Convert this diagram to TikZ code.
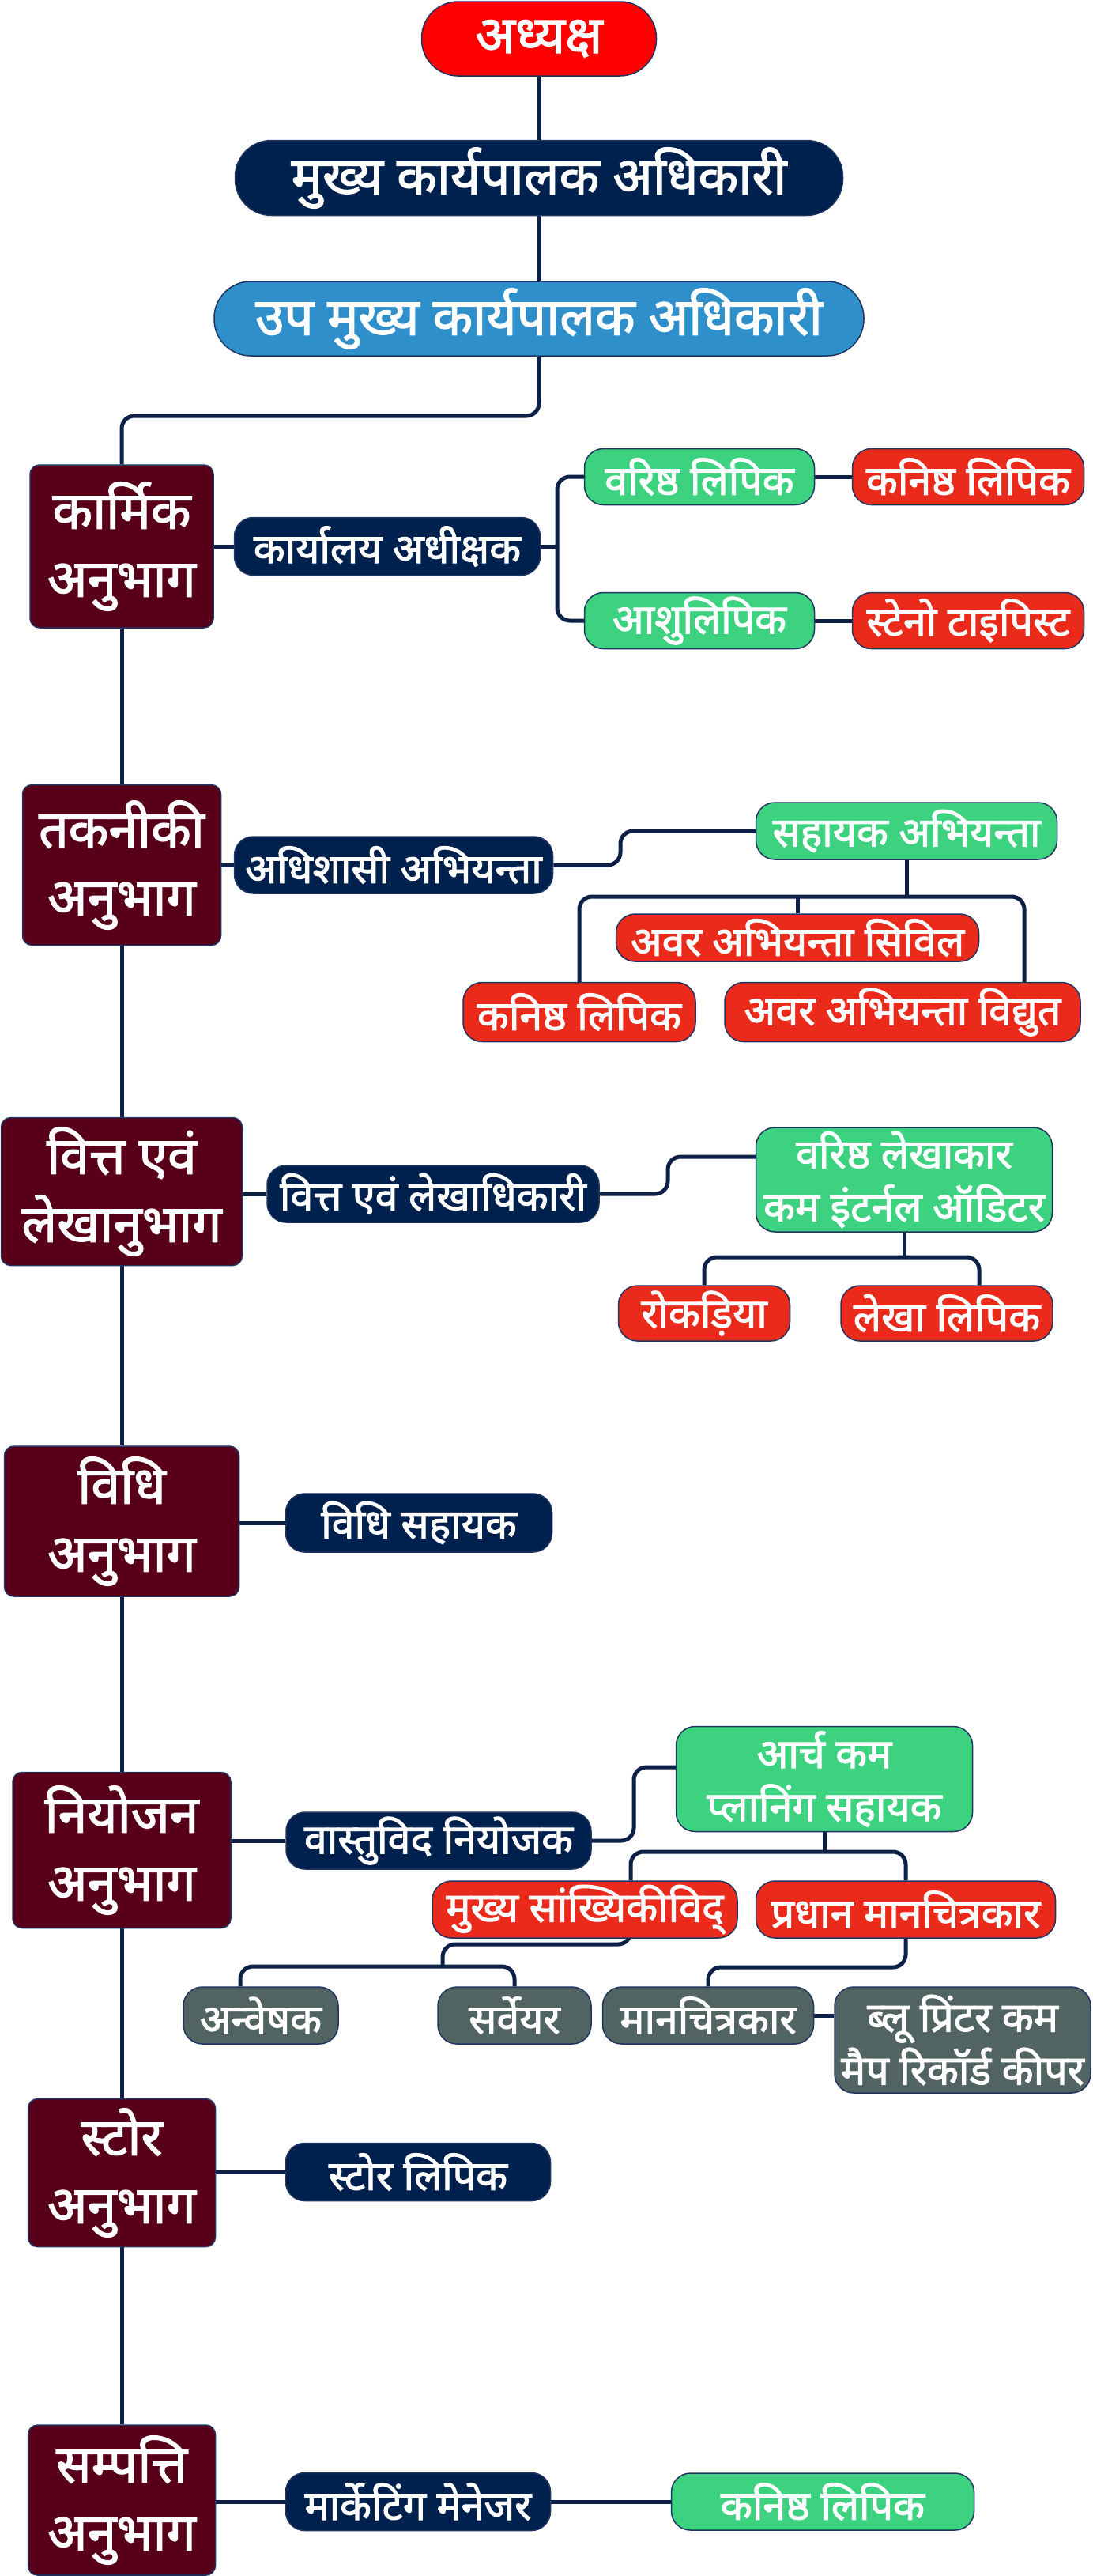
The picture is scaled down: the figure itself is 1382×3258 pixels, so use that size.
\documentclass[tikz,border=0pt]{standalone}
\usepackage{fontspec}
\newfontfamily\deva[Script=Devanagari, FakeBold=2]{Noto Sans}
\usetikzlibrary{positioning}
\pgfdeclarelayer{bg}
\pgfsetlayers{bg,main}
\definecolor{chairred}{HTML}{FF0000}
\definecolor{navy}{HTML}{00214D}
\definecolor{skyblue}{HTML}{2E8FCB}
\definecolor{maroon}{HTML}{58001A}
\definecolor{postgreen}{HTML}{3CD27F}
\definecolor{postred}{HTML}{EA2A1B}
\definecolor{postgray}{HTML}{526462}
\definecolor{edge}{HTML}{1F3460}
\definecolor{linec}{HTML}{0D2148}
\tikzset{
    box/.style={draw=edge, line width=1.5pt, text=white, align=center, inner sep=0pt,
        rounded corners=24pt, font=\deva\fontsize{52}{67}\selectfont},
    pill/.style={box, rounded corners=46pt, font=\deva\fontsize{66}{70}\selectfont},
    sect/.style={box, fill=maroon, rounded corners=12pt, font=\deva\fontsize{66}{86}\selectfont},
    officer/.style={box, fill=navy},
    senior/.style={box, fill=postgreen},
    junior/.style={box, fill=postred},
    field/.style={box, fill=postgray},
    link/.style={draw=linec, line width=5pt},
    elbow/.style={link, rounded corners=16pt},
}
\begin{document}
\begin{tikzpicture}[x=1pt, y=-1pt]
    \useasboundingbox (0,0) rectangle (1382,3258);
    \node[pill, fill=chairred, minimum width=297pt, minimum height=94pt] (chair) at (682,49) {अध्यक्ष};
    \node[pill, fill=navy, minimum width=769pt, minimum height=95pt] (ceo) at (682,225) {मुख्य कार्यपालक अधिकारी};
    \node[pill, fill=skyblue, minimum width=822pt, minimum height=94pt] (dceo) at (682,403) {उप मुख्य कार्यपालक अधिकारी};

    \node[sect, minimum width=232pt, minimum height=206pt] (karmik) at (154,691) {कार्मिक\\अनुभाग};
    \node[officer, minimum width=387pt, minimum height=73pt] (supdt) at (490,691) {कार्यालय अधीक्षक};
    \node[senior, minimum width=291pt, minimum height=71pt] (srclerk) at (885,603) {वरिष्ठ लिपिक};
    \node[junior, minimum width=293pt, minimum height=71pt] (jrclerk) at (1225,603) {कनिष्ठ लिपिक};
    \node[senior, minimum width=291pt, minimum height=71pt] (steno) at (885,785) {आशुलिपिक};
    \node[junior, minimum width=293pt, minimum height=71pt] (typist) at (1225,785) {स्टेनो टाइपिस्ट};

    \node[sect, minimum width=251pt, minimum height=203pt] (takniki) at (154,1094) {तकनीकी\\अनुभाग};
    \node[officer, minimum width=403pt, minimum height=72pt] (xen) at (498,1094) {अधिशासी अभियन्ता};
    \node[senior, minimum width=381pt, minimum height=72pt] (ae) at (1147,1051) {सहायक अभियन्ता};
    \node[junior, minimum width=459pt, minimum height=60pt] (jecivil) at (1009,1186) {अवर अभियन्ता सिविल};
    \node[junior, minimum width=294pt, minimum height=75pt] (techclerk) at (733,1280) {कनिष्ठ लिपिक};
    \node[junior, minimum width=450pt, minimum height=75pt] (jeelec) at (1142,1280) {अवर अभियन्ता विद्युत};

    \node[sect, minimum width=305pt, minimum height=187pt] (vitt) at (154,1507) {वित्त एवं\\लेखानुभाग};
    \node[officer, minimum width=420pt, minimum height=72pt] (fao) at (548,1510) {वित्त एवं लेखाधिकारी};
    \node[senior, minimum width=375pt, minimum height=132pt] (auditor) at (1144,1492) {वरिष्ठ लेखाकार\\कम इंटर्नल ऑडिटर};
    \node[junior, minimum width=217pt, minimum height=70pt] (cashier) at (891,1661) {रोकड़िया};
    \node[junior, minimum width=268pt, minimum height=70pt] (acclerk) at (1198,1661) {लेखा लिपिक};

    \node[sect, minimum width=297pt, minimum height=190pt] (vidhi) at (154,1924) {विधि\\अनुभाग};
    \node[officer, minimum width=337pt, minimum height=74pt] (legal) at (530,1926) {विधि सहायक};

    \node[sect, minimum width=276pt, minimum height=197pt] (niyojan) at (154,2340) {नियोजन\\अनुभाग};
    \node[officer, minimum width=386pt, minimum height=72pt] (planner) at (555,2328) {वास्तुविद नियोजक};
    \node[senior, minimum width=375pt, minimum height=133pt] (arch) at (1043,2250) {आर्च कम\\प्लानिंग सहायक};
    \node[junior, minimum width=386pt, minimum height=72pt] (stat) at (740,2415) {मुख्य सांख्यिकीविद्};
    \node[junior, minimum width=379pt, minimum height=72pt] (chiefdraft) at (1146,2415) {प्रधान मानचित्रकार};
    \node[field, minimum width=196pt, minimum height=72pt] (invest) at (330,2549) {अन्वेषक};
    \node[field, minimum width=194pt, minimum height=72pt] (surveyor) at (651,2549) {सर्वेयर};
    \node[field, minimum width=267pt, minimum height=72pt] (draft) at (896,2549) {मानचित्रकार};
    \node[field, minimum width=324pt, minimum height=134pt] (keeper) at (1218,2580) {ब्लू प्रिंटर कम\\मैप रिकॉर्ड कीपर};

    \node[sect, minimum width=237pt, minimum height=187pt] (store) at (154,2748) {स्टोर\\अनुभाग};
    \node[officer, minimum width=335pt, minimum height=73pt] (storeclerk) at (529,2747) {स्टोर लिपिक};

    \node[sect, minimum width=237pt, minimum height=190pt] (sampatti) at (154,3162) {सम्पत्ति\\अनुभाग};
    \node[officer, minimum width=335pt, minimum height=73pt] (marketing) at (529,3164) {मार्केटिंग मेनेजर};
    \node[senior, minimum width=383pt, minimum height=72pt] (mktclerk) at (1041,3164) {कनिष्ठ लिपिक};

    \coordinate (d0) at (682,526);
    \coordinate (k0) at (705,691);
    \coordinate (t0) at (785,1094);
    \coordinate (t1) at (1147,1134);
    \coordinate (v0) at (845,1510);
    \coordinate (v1) at (1144,1590);
    \coordinate (n0) at (802,2328);
    \coordinate (n1) at (1043,2342);
    \coordinate (n2) at (560,2459);
    \coordinate (n3) at (560,2487);
    \coordinate (n4) at (1146,2488);

    \begin{pgfonlayer}{bg}
        \draw[link] (chair) -- (ceo) -- (dceo);
        \draw[elbow] (dceo.south) -- (d0) -| (karmik.north);
        \draw[link] (karmik) -- (takniki) -- (vitt) -- (vidhi) -- (niyojan) -- (store) -- (sampatti);

        \draw[link] (karmik) -- (supdt);
        \draw[link] (supdt.east) -- (k0);
        \draw[elbow] (k0) |- (srclerk.west);
        \draw[elbow] (k0) |- (steno.west);
        \draw[link] (srclerk) -- (jrclerk);
        \draw[link] (steno) -- (typist);

        \draw[link] (takniki) -- (xen);
        \draw[elbow] (xen.east) -- (t0) |- (ae.west);
        \draw[link] (ae.south) -- (t1);
        \draw[elbow] (techclerk.north) |- (t1) -| ([xshift=154pt]jeelec.north);
        \draw[link] (jecivil.north) -- (jecivil.north |- t1);

        \draw[link] (vitt.east |- fao.west) -- (fao.west);
        \draw[elbow] (fao.east) -- (v0) |- ([yshift=29pt]auditor.west);
        \draw[link] (auditor.south) -- (v1);
        \draw[elbow] (cashier.north) |- (v1) -| ([xshift=41pt]acclerk.north);

        \draw[link] (vidhi.east |- legal.west) -- (legal.west);

        \draw[link] (niyojan.east |- planner.west) -- (planner.west);
        \draw[elbow] (planner.east) -- (n0) |- ([yshift=15pt]arch.west);
        \draw[link] (arch.south) -- (n1);
        \draw[elbow] ([xshift=58pt]stat.north) |- (n1) -| (chiefdraft.north);
        \draw[elbow] ([xshift=58pt]stat.south) |- (n2) -- (n3);
        \draw[elbow] ([xshift=-26pt]invest.north) |- (n3) -| (surveyor.north);
        \draw[elbow] (chiefdraft.south) -- (n4) -| (draft.north);
        \draw[link] (draft.east) -- (draft.east -| keeper.west);

        \draw[link] (store.east |- storeclerk.west) -- (storeclerk.west);
        \draw[link] (sampatti.east |- marketing.west) -- (marketing.west);
        \draw[link] (marketing) -- (mktclerk);
    \end{pgfonlayer}
\end{tikzpicture}
\end{document}
